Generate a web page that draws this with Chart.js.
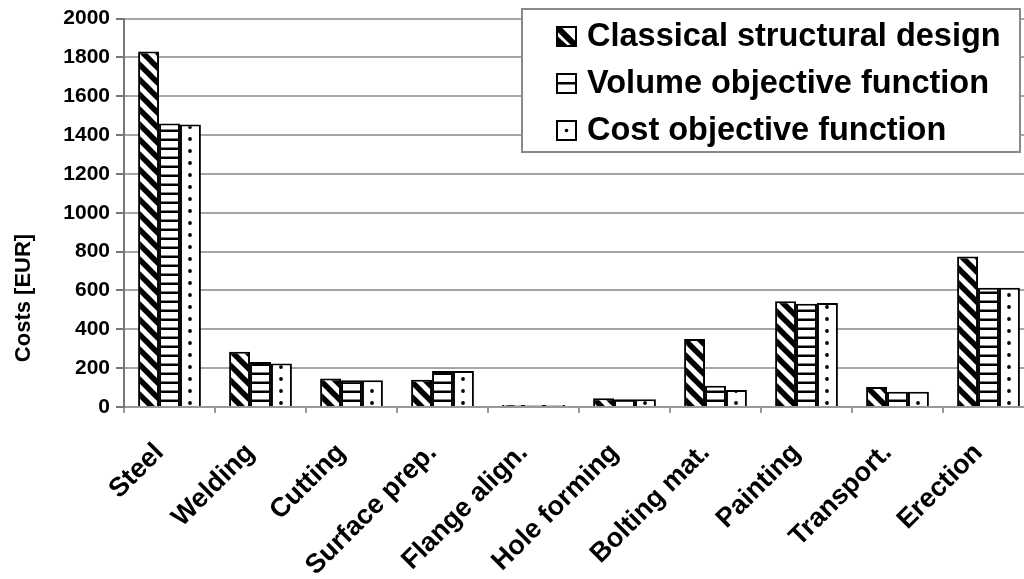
<!DOCTYPE html>
<html>
<head>
<meta charset="utf-8">
<script src="https://cdn.jsdelivr.net/npm/chart.js@4.4.1/dist/chart.umd.min.js"></script>
<style>
  html, body { margin: 0; padding: 0; background: #fff; overflow: hidden; }
  #wrap { width: 1034px; height: 579px; position: relative; }
</style>
</head>
<body>
<div id="wrap"><canvas id="c"></canvas></div>
<script>
const categories = ['Steel', 'Welding', 'Cutting', 'Surface prep.', 'Flange align.', 'Hole forming', 'Bolting mat.', 'Painting', 'Transport.', 'Erection'];
const classical = [1830, 285, 147, 140, 10, 45, 350, 545, 103, 775];
const volume = [1460, 232, 138, 185, 10, 40, 110, 532, 78, 614];
const cost = [1455, 224, 138, 185, 10, 40, 88, 535, 78, 614];
const seriesNames = ['Classical structural design', 'Volume objective function', 'Cost objective function'];
const yTicks = { min: 0, max: 2000, step: 200 };

const FONT = "'Liberation Sans', Arial, sans-serif";
const CAT_PCT = 0.69;

const canvas = document.getElementById('c');
const ctx = canvas.getContext('2d');

function makeTile(w, h, draw) {
    const c = document.createElement('canvas');
    c.width = w; c.height = h;
    const g = c.getContext('2d');
    g.fillStyle = '#fff';
    g.fillRect(0, 0, w, h);
    g.fillStyle = '#000';
    g.strokeStyle = '#000';
    draw(g);
    return c;
}

// thick "\" stripes
const diagTile = makeTile(15, 15, g => {
    g.lineWidth = 5.5;
    [-15, 0, 15].forEach(k => {
        g.beginPath(); g.moveTo(-2, k - 2); g.lineTo(17, k + 17); g.stroke();
    });
});
// horizontal lines
const lineTile = makeTile(4, 9, g => g.fillRect(0, 3.5, 4, 2.5));
// single dot
const dotTile = makeTile(12, 12, g => { g.beginPath(); g.arc(6, 6, 1.9, 0, Math.PI * 2); g.fill(); });

const diagPat = ctx.createPattern(diagTile, 'repeat');
const linePat = ctx.createPattern(lineTile, 'repeat');

function dotPat(x) {
    const p = ctx.createPattern(dotTile, 'repeat');
    p.setTransform(new DOMMatrix([1, 0, 0, 1, Math.round(x) - 6, 1]));
    return p;
}

function costFill(c) {
    if (c.type !== 'data' || !c.chart.scales.x) return dotPat(0);
    const xs = c.chart.scales.x;
    const w = xs.width / categories.length;
    return dotPat(xs.getPixelForValue(c.dataIndex) + w * CAT_PCT / 3);
}

const legendBox = {
    id: 'legendBox',
    afterDraw(chart) {
        const g = chart.ctx;
        g.save();
        g.fillStyle = '#fff';
        g.fillRect(522, 9, 498, 143);
        g.strokeStyle = '#8a8a8a';
        g.lineWidth = 2;
        g.strokeRect(522, 9, 498, 143);
        const rows = [36, 83, 130];
        rows.forEach((y, i) => {
            const sx = 557, sy = y - 9, s = 19;
            g.save();
            g.beginPath(); g.rect(sx, sy, s, s); g.clip();
            g.fillStyle = '#fff'; g.fillRect(sx, sy, s, s);
            g.fillStyle = '#000'; g.strokeStyle = '#000';
            if (i === 0) {
                g.lineWidth = 6;
                g.beginPath(); g.moveTo(sx - 2, sy - 2); g.lineTo(sx + s + 2, sy + s + 2); g.stroke();
                g.beginPath(); g.moveTo(sx - 2, sy + 11); g.lineTo(sx + 10, sy + s + 3); g.stroke();
            } else if (i === 1) {
                g.fillRect(sx, y - 1, s, 2.5);
            } else {
                g.beginPath(); g.arc(sx + s / 2, y + 0.5, 1.8, 0, Math.PI * 2); g.fill();
            }
            g.restore();
            g.strokeStyle = '#000'; g.lineWidth = 2;
            g.strokeRect(sx, sy, s, s);
            g.fillStyle = '#000';
            g.font = 'bold 32.5px ' + FONT;
            g.textBaseline = 'middle';
            g.textAlign = 'left';
            g.fillText(seriesNames[i], 587, y + 1);
        });
        // y axis title
        g.translate(24, 298);
        g.rotate(-Math.PI / 2);
        g.font = 'bold 22px ' + FONT;
        g.textAlign = 'center';
        g.textBaseline = 'middle';
        g.fillText('Costs [EUR]', 0, 0);
        g.restore();
    }
};

new Chart(ctx, {
    type: 'bar',
    data: {
        labels: categories,
        datasets: [
            { label: seriesNames[0], data: classical, backgroundColor: diagPat },
            { label: seriesNames[1], data: volume, backgroundColor: linePat },
            { label: seriesNames[2], data: cost, backgroundColor: costFill }
        ]
    },
    options: {
        responsive: true, maintainAspectRatio: false, animation: false,
        datasets: { bar: { categoryPercentage: CAT_PCT, barPercentage: 1, borderColor: '#000', borderWidth: 2 } },
        layout: { padding: { top: 17, left: 0, right: 0, bottom: 0 } },
        plugins: { legend: { display: false }, tooltip: { enabled: false } },
        scales: {
            x: {
                grid: { drawOnChartArea: false, tickLength: 6, tickColor: '#999', lineWidth: 2 },
                border: { color: '#999', width: 2 },
                ticks: { color: '#000', maxRotation: 45, minRotation: 45, padding: 24, labelOffset: -10, font: { family: FONT, size: 27, weight: 'bold' } },
                afterFit: s => { s.height = 172; s.paddingRight = 0; s.paddingLeft = 0; }
            },
            y: {
                min: yTicks.min, max: yTicks.max,
                grid: { color: '#a6a6a6', lineWidth: 2, tickLength: 8, tickColor: '#777' },
                border: { color: '#777', width: 2 },
                ticks: { stepSize: yTicks.step, color: '#000', padding: 6, callback: v => String(v), font: { family: FONT, size: 21, weight: 'bold' } },
                afterFit: s => { s.width = 124; }
            }
        }
    },
    plugins: [legendBox]
});
</script>
</body>
</html>
